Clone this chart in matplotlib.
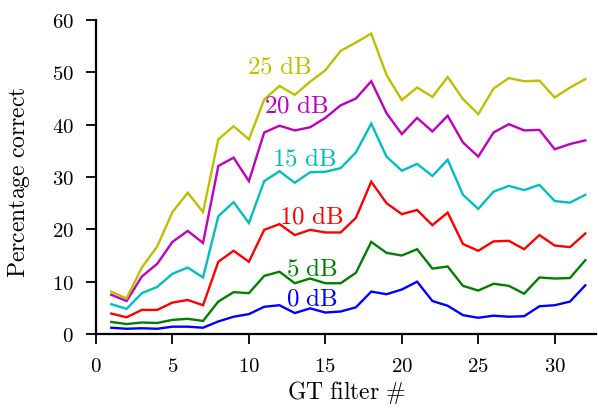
import matplotlib
matplotlib.use("Agg")
import matplotlib.pyplot as plt
from matplotlib.ticker import FuncFormatter

plt.rcParams['mathtext.fontset'] = 'cm'

filters = list(range(1, 33))
snr_labels = ["0 dB", "5 dB", "10 dB", "15 dB", "20 dB", "25 dB"]
colors = ["#0000ff", "#008000", "#ff0000", "#00bfbf", "#bf00bf", "#bfbf00"]

pc_0dB = [1.2, 1.0, 1.1, 1.0, 1.4, 1.4, 1.2, 2.4, 3.3, 3.8, 5.2, 5.5, 4.0, 4.9, 4.1, 4.3,
          5.1, 8.1, 7.6, 8.5, 10.0, 6.3, 5.4, 3.6, 3.1, 3.5, 3.3, 3.4, 5.3, 5.5, 6.2, 9.3]
pc_5dB = [2.3, 1.9, 2.2, 2.1, 2.7, 2.9, 2.5, 6.2, 8.0, 7.8, 11.1, 11.9, 9.7, 10.6, 9.7, 9.7,
          11.7, 17.6, 15.5, 15.0, 16.2, 12.5, 12.9, 9.2, 8.3, 9.6, 9.2, 7.7, 10.8, 10.6, 10.7, 14.1]
pc_10dB = [3.9, 3.2, 4.6, 4.6, 6.0, 6.5, 5.5, 13.8, 15.9, 13.8, 19.9, 21.0, 18.9, 19.9, 19.4, 19.4,
           22.2, 29.1, 25.0, 22.9, 23.7, 20.8, 23.2, 17.2, 15.9, 17.7, 17.8, 16.2, 18.9, 16.9, 16.6, 19.2]
pc_15dB = [5.7, 4.8, 7.8, 9.0, 11.5, 12.7, 10.8, 22.5, 25.2, 21.2, 29.2, 31.1, 28.9, 30.9, 31.0, 31.7,
           34.7, 40.2, 33.9, 31.2, 32.5, 30.2, 33.3, 26.6, 23.9, 27.2, 28.3, 27.5, 28.5, 25.4, 25.1, 26.6]
pc_20dB = [7.5, 6.3, 11.0, 13.4, 17.6, 19.7, 17.4, 32.1, 33.7, 29.2, 38.5, 39.8, 38.9, 39.5, 41.3, 43.7,
           45.0, 48.3, 42.2, 38.2, 41.3, 38.7, 41.7, 36.6, 33.9, 38.5, 40.1, 38.9, 39.0, 35.3, 36.3, 37.0]
pc_25dB = [8.1, 6.8, 12.7, 16.7, 23.3, 27.0, 23.3, 37.2, 39.7, 37.2, 44.8, 47.4, 45.7, 48.2, 50.4, 54.1,
           55.7, 57.4, 49.5, 44.7, 47.1, 45.3, 49.1, 44.9, 42.0, 46.9, 48.9, 48.3, 48.4, 45.2, 47.1, 48.7]
series = [pc_0dB, pc_5dB, pc_10dB, pc_15dB, pc_20dB, pc_25dB]

label_x = [14.1, 14.1, 14.1, 13.6, 13.1, 12.0]
label_y = [6.7, 12.5, 22.4, 33.6, 43.6, 51.2]

xticks = [0, 5, 10, 15, 20, 25, 30]
yticks = [0, 10, 20, 30, 40, 50, 60]

fig = plt.figure(figsize=(5.98, 4.08), dpi=100)
ax = fig.add_axes([96/598, 74/408, 500/598, 314/408])

for vals, col, lab, lx, ly in zip(series, colors, snr_labels, label_x, label_y):
    ax.plot(filters, vals, color=col, lw=1.7, solid_joinstyle='miter')
    ax.text(lx, ly, r'$\mathrm{%s}$' % lab.replace(' ', r'\ '), color=col,
            fontsize=18, ha='center', va='center')

ax.set_xlim(0, 32.7)
ax.set_ylim(0, 60)
ax.set_xticks(xticks)
ax.set_yticks(yticks)
fmt = FuncFormatter(lambda v, p: r'$\mathrm{%d}$' % v)
ax.xaxis.set_major_formatter(fmt)
ax.yaxis.set_major_formatter(fmt)
ax.tick_params(direction='out', length=7, width=1.3, labelsize=15)
ax.tick_params(axis='x', pad=9)
ax.tick_params(axis='y', pad=9)
for s in ['top', 'right']:
    ax.spines[s].set_visible(False)
for s in ['left', 'bottom']:
    ax.spines[s].set_linewidth(1.6)

ax.set_xlabel(r'$\mathrm{GT\ filter\ \#}$', fontsize=17, labelpad=2)
ax.set_ylabel(r'$\mathrm{Percentage\ correct}$', fontsize=17)
ax.yaxis.set_label_coords(-0.127, 0.4825)

fig.savefig('out.png', dpi=100)
